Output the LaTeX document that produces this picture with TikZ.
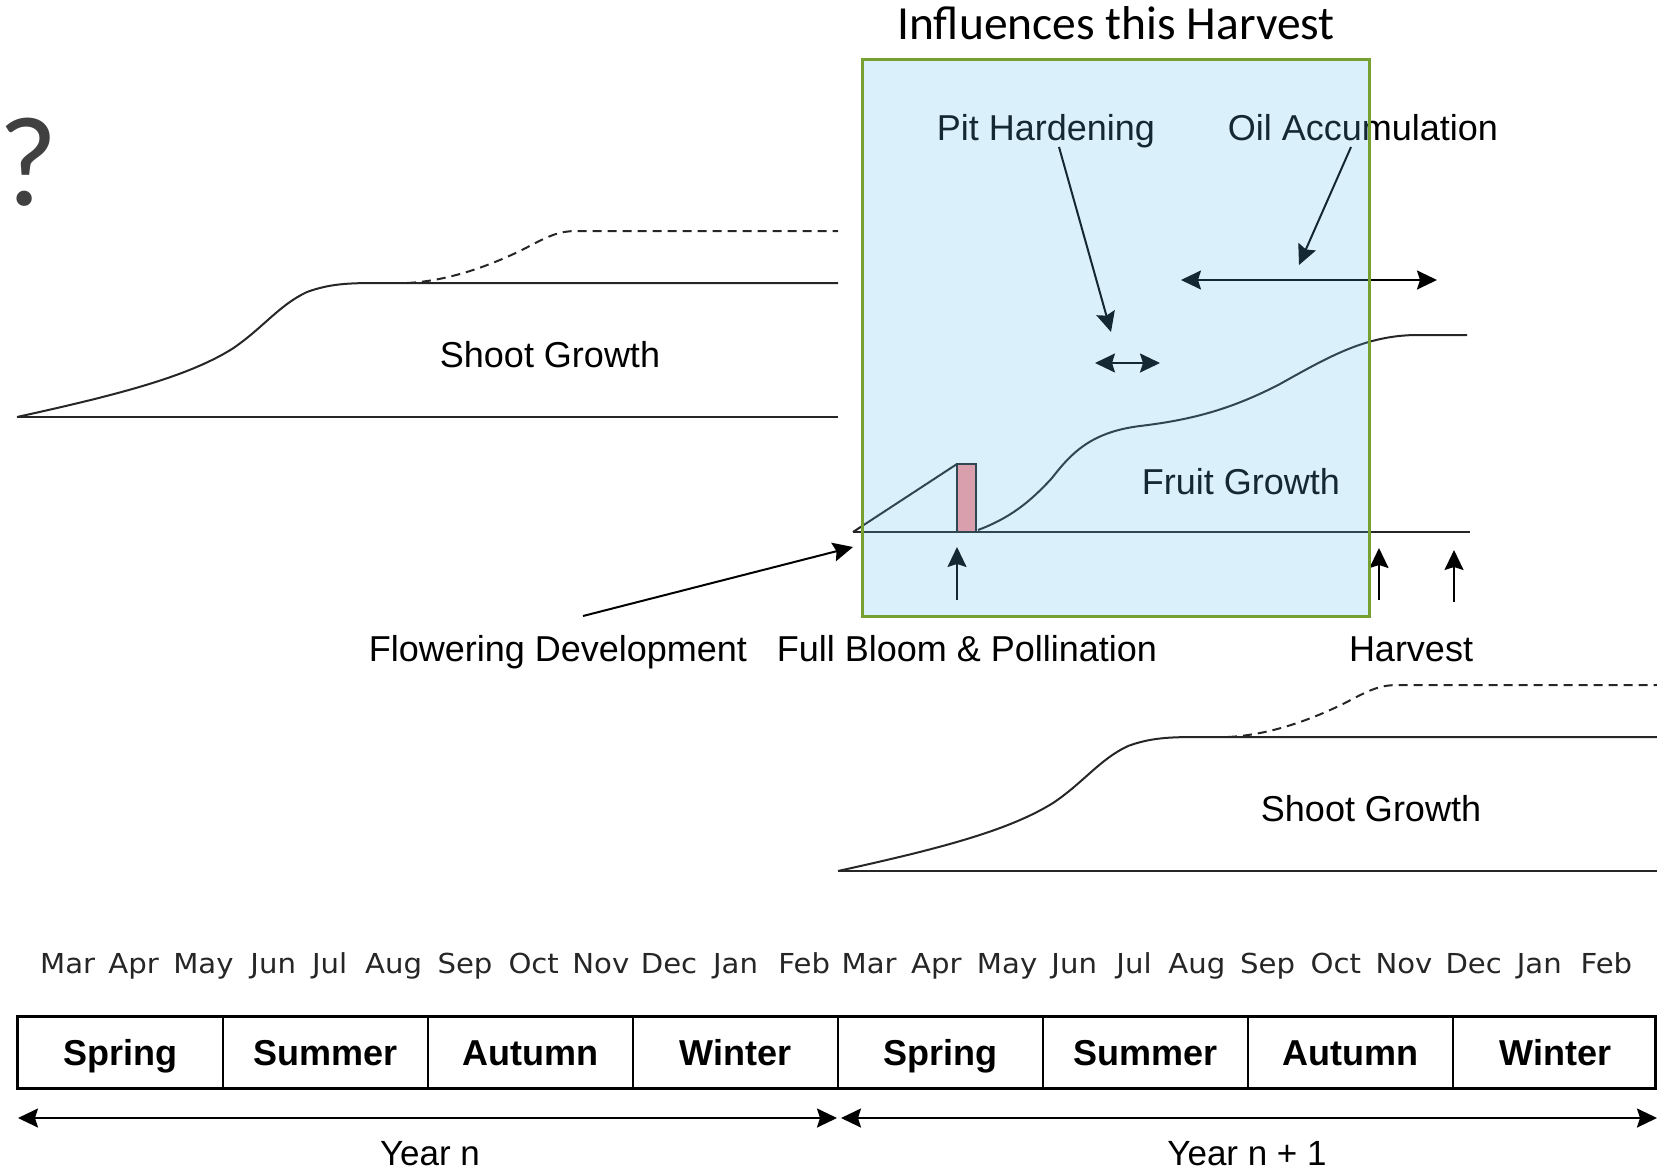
\documentclass[tikz,border=0pt]{standalone}
\usepackage{fontspec}
\setmainfont{Liberation Sans}
\newfontfamily\calibfont{Carlito}
\newfontfamily\monthfont[FakeStretch=1.06]{DejaVu Sans}
\usetikzlibrary{arrows.meta}

\definecolor{boxgreen}{RGB}{118,160,48}
\definecolor{boxblue}{RGB}{88,185,235}
\definecolor{bloompink}{RGB}{255,152,155}
\definecolor{qgray}{RGB}{64,64,64}

\tikzset{
  lbl/.style={font=\fontsize{36}{40}\selectfont, inner sep=0pt, anchor=base},
  monthlbl/.style={font=\monthfont\fontsize{27.5}{30}\selectfont, inner sep=0pt, anchor=base, text=black!85},
  cell/.style={draw, line width=2pt, minimum width=205pt, minimum height=71pt, inner sep=0pt,
    font=\bfseries\fontsize{36}{40}\selectfont, text height=26pt, text depth=0pt},
  curveline/.style={line width=2pt, draw=black!85},
  dashline/.style={curveline, dash pattern=on 9pt off 6pt},
  arrowline/.style={line width=2pt, draw=black},
  headtip/.tip={Stealth[length=20pt,width=19pt,inset=3pt]},
  onetip/.style={arrowline, -headtip},
  twotip/.style={arrowline, headtip-headtip},
  shootgrowth/.pic={
    \draw[curveline] (0,0) -- (821,0);
    \draw[curveline] (0,0) .. controls (100,-22) and (170,-40) .. (215,-68)
      .. controls (245,-88) and (262,-112) .. (290,-125)
      .. controls (312,-133) and (330,-134) .. (360,-134) -- (821,-134);
    \draw[dashline] (390,-134) .. controls (430,-136) and (470,-150) .. (505,-167)
      .. controls (530,-180) and (540,-186) .. (560,-186) -- (821,-186);
  }
}

\begin{document}
\begin{tikzpicture}[x=1pt,y=-1pt]
\useasboundingbox (0,0) rectangle (1657,1172);

% question mark and box title
\node[anchor=base west, inner sep=0pt, text=qgray, font=\calibfont\fontsize{128}{130}\selectfont] (quest) at (-2,205) {?};
\node[anchor=base, inner sep=0pt, font=\calibfont\fontsize{47.5}{50}\selectfont] (title) at (1116,40) {Influences this Harvest};

% shoot growth, year n and year n + 1
\pic at (17,417) {shootgrowth};
\pic at (838,871) {shootgrowth};
\node[lbl] (shootA) at (550,367) {Shoot Growth};
\node[lbl] (shootB) at (1371,821) {Shoot Growth};

% fruit growth
\coordinate (fstart) at (853,532);
\coordinate (fend) at (1470,532);
\draw[curveline] (fstart) -- (fend);
\draw[curveline] (fstart) -- (957,464);
\draw[line width=2pt, draw=black!85, fill=bloompink] (957,464) rectangle (976,532);
\draw[curveline] (978,530) .. controls (1010,518) and (1030,502) .. (1052,478)
  .. controls (1072,452) and (1092,432) .. (1140,426)
  .. controls (1190,420) and (1230,410) .. (1280,384)
  .. controls (1330,356) and (1365,336) .. (1415,335) -- (1467,335);
\node[lbl] (fruit) at (1241,494) {Fruit Growth};

% stage labels
\node[lbl] (pit) at (1046,140) {Pit Hardening};
\node[lbl] (oil) at (1363,140) {Oil Accumulation};
\node[lbl] (flower) at (558,661) {Flowering Development};
\node[lbl] (bloom) at (967,661) {Full Bloom \& Pollination};
\node[lbl] (harvest) at (1411,661) {Harvest};

% stage arrows
\coordinate (pitA) at (1059,147);
\coordinate (pitB) at (1111,332);
\coordinate (oilA) at (1351,147);
\coordinate (oilB) at (1299,265);
\coordinate (pitL) at (1095,363);
\coordinate (pitR) at (1160,363);
\coordinate (oilL) at (1181,280);
\coordinate (oilR) at (1437,280);
\draw[onetip] (pitA) -- (pitB);
\draw[onetip] (oilA) -- (oilB);
\draw[twotip] (pitL) -- (pitR);
\draw[twotip] (oilL) -- (oilR);

\coordinate (flA) at (583,616);
\coordinate (flB) at (853,547);
\draw[onetip] (flA) -- (flB);
\coordinate (blA) at (957,600);
\coordinate (blB) at (957,547);
\draw[onetip] (blA) -- (blB);
\coordinate (hvA) at (1379,600);
\coordinate (hvB) at (1379,548);
\draw[onetip] (hvA) -- (hvB);
\coordinate (hwA) at (1454,602);
\coordinate (hwB) at (1454,550);
\draw[onetip] (hwA) -- (hwB);

% translucent window over the harvest season
\node[draw=boxgreen, line width=3pt, fill=boxblue, fill opacity=0.22,
  minimum width=507pt, minimum height=556pt, inner sep=0pt] (window) at (1115.5,338) {};

% months
\foreach \m/\x [count=\i] in {Mar/67.6,Apr/133.7,May/203.4,Jun/273.2,Jul/329.7,Aug/393.7,
    Sep/465,Oct/533.7,Nov/600.8,Dec/669,Jan/735.5,Feb/804.2,
    Mar/869.2,Apr/936.3,May/1007.1,Jun/1074.2,Jul/1134,Aug/1196.8,
    Sep/1267.6,Oct/1335.8,Nov/1404,Dec/1473.7,Jan/1539.3,Feb/1606.4}
  \node[monthlbl] (month\i) at (\x,973) {\m};

% seasons
\foreach \s [count=\i from 0] in {Spring,Summer,Autumn,Winter,Spring,Summer,Autumn,Winter}
  \node[cell] (season\i) at ({120.5+205*\i},1052.5) {\s};
\draw[line width=3pt] (season0.north west) rectangle (1655,1088);

% years
\coordinate (yAL) at (18,1118);
\coordinate (yAR) at (837,1118);
\coordinate (yBL) at (841,1118);
\coordinate (yBR) at (1657,1118);
\draw[twotip] (yAL) -- (yAR);
\draw[twotip] (yBL) -- (yBR);
\node[lbl, font=\fontsize{35}{40}\selectfont] (yearA) at (430,1165) {Year n};
\node[lbl, font=\fontsize{35}{40}\selectfont] (yearB) at (1247,1165) {Year n + 1};
\end{tikzpicture}
\end{document}
